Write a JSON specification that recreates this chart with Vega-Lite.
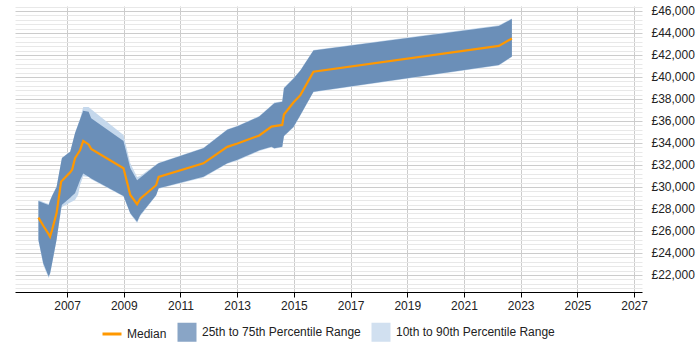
{
  "$schema": "https://vega.github.io/schema/vega-lite/v6.json",
  "autosize": {"type": "none"},
  "width": 627,
  "height": 286,
  "padding": {"left": 15, "top": 6, "right": 58, "bottom": 58},
  "background": "#ffffff",
  "config": {
    "view": {"stroke": null},
    "font": "Liberation Sans",
    "axis": {"labelFont": "Liberation Sans", "labelFontSize": 12, "labelColor": "#222222"},
    "legend": {
      "orient": "none", "direction": "horizontal", "legendX": 91, "legendY": 320,
      "labelFont": "Liberation Sans", "labelFontSize": 12, "labelColor": "#222222",
      "symbolSize": 361, "columnPadding": 10, "labelOffset": 9
    }
  },
  "data": {
    "values": [
      {"year": 2005.99, "p10": 25091, "p25": 25182, "median": 27209, "p75": 28727, "p90": 28818},
      {"year": 2006.16, "p10": 22909, "p25": 23063, "median": 26472, "p75": 28545, "p90": 28636},
      {"year": 2006.35, "p10": 21727, "p25": 21864, "median": 25709, "p75": 28364, "p90": 28455},
      {"year": 2006.40, "p10": 22045, "p25": 22164, "median": 25481, "p75": 28745, "p90": 28818},
      {"year": 2006.47, "p10": 22955, "p25": 23063, "median": 26091, "p75": 29173, "p90": 29227},
      {"year": 2006.63, "p10": 25182, "p25": 25227, "median": 27618, "p75": 30000, "p90": 30045},
      {"year": 2006.79, "p10": 27909, "p25": 28055, "median": 30482, "p75": 32245, "p90": 32273},
      {"year": 2006.82, "p10": 28182, "p25": 28391, "median": 30573, "p75": 32627, "p90": 32655},
      {"year": 2007.11, "p10": 28582, "p25": 29027, "median": 31327, "p75": 33209, "p90": 33227},
      {"year": 2007.18, "p10": 28673, "p25": 29191, "median": 31582, "p75": 33882, "p90": 33909},
      {"year": 2007.28, "p10": 28818, "p25": 29427, "median": 32609, "p75": 34882, "p90": 34909},
      {"year": 2007.39, "p10": 29282, "p25": 30155, "median": 33064, "p75": 35645, "p90": 35727},
      {"year": 2007.46, "p10": 30182, "p25": 30636, "median": 33364, "p75": 36155, "p90": 36227},
      {"year": 2007.57, "p10": 30973, "p25": 31218, "median": 34191, "p75": 36927, "p90": 37273},
      {"year": 2007.76, "p10": 30909, "p25": 30927, "median": 33864, "p75": 36827, "p90": 37273},
      {"year": 2007.85, "p10": 30700, "p25": 30764, "median": 33464, "p75": 36245, "p90": 37055},
      {"year": 2008.99, "p10": 29136, "p25": 29182, "median": 31700, "p75": 34182, "p90": 34727},
      {"year": 2009.23, "p10": 27545, "p25": 27609, "median": 29273, "p75": 31727, "p90": 32145},
      {"year": 2009.47, "p10": 26727, "p25": 26845, "median": 28427, "p75": 30609, "p90": 30909},
      {"year": 2009.58, "p10": 27364, "p25": 27455, "median": 28927, "p75": 30827, "p90": 31000},
      {"year": 2010.14, "p10": 29200, "p25": 29245, "median": 30155, "p75": 31991, "p90": 32050},
      {"year": 2010.23, "p10": 29830, "p25": 29882, "median": 30909, "p75": 32155, "p90": 32200},
      {"year": 2011.81, "p10": 30870, "p25": 30927, "median": 32145, "p75": 33509, "p90": 33560},
      {"year": 2012.65, "p10": 32110, "p25": 32164, "median": 33645, "p75": 35191, "p90": 35240},
      {"year": 2013.01, "p10": 32410, "p25": 32464, "median": 33955, "p75": 35518, "p90": 35570},
      {"year": 2013.78, "p10": 33270, "p25": 33327, "median": 34682, "p75": 36400, "p90": 36450},
      {"year": 2014.21, "p10": 33610, "p25": 33664, "median": 35491, "p75": 37382, "p90": 37430},
      {"year": 2014.31, "p10": 33470, "p25": 33527, "median": 35536, "p75": 37618, "p90": 37670},
      {"year": 2014.59, "p10": 33610, "p25": 33664, "median": 35636, "p75": 37755, "p90": 37800},
      {"year": 2014.65, "p10": 34580, "p25": 34636, "median": 36582, "p75": 38982, "p90": 39030},
      {"year": 2014.99, "p10": 35410, "p25": 35464, "median": 37700, "p75": 39855, "p90": 39900},
      {"year": 2015.23, "p10": 36490, "p25": 36545, "median": 38345, "p75": 40591, "p90": 40640},
      {"year": 2015.69, "p10": 38610, "p25": 38664, "median": 40482, "p75": 42409, "p90": 42460},
      {"year": 2022.23, "p10": 41040, "p25": 41091, "median": 42818, "p75": 44636, "p90": 44690},
      {"year": 2022.69, "p10": 41810, "p25": 41864, "median": 43500, "p75": 45273, "p90": 45320}
    ]
  },
  "resolve": {"scale": {"y": "shared"}, "axis": {"y": "independent"}},
  "layer": [
    {
      "mark": {"type": "area", "opacity": 1},
      "encoding": {
        "x": {
          "field": "year", "type": "quantitative",
          "scale": {"domain": [2005.163, 2027.28], "nice": false, "zero": false},
          "axis": {
            "title": null, "values": [2007, 2009, 2011, 2013, 2015, 2017, 2019, 2021, 2023, 2025, 2027],
            "format": "d", "grid": true, "gridColor": "#cccccc", "gridWidth": 1,
            "domainColor": "#000000", "domainWidth": 1, "tickColor": "#000000", "tickSize": 5,
            "labelPadding": 3, "labelFlush": false
          }
        },
        "y": {
          "field": "p10", "type": "quantitative",
          "scale": {"domain": [20450, 46450], "nice": false, "zero": false},
          "axis": {
            "orient": "left", "title": null, "labels": false, "ticks": false, "domain": false,
            "grid": true, "gridColor": "#e8e8e8", "gridWidth": 1,
            "values": [20800, 21200, 21600, 22400, 22800, 23200, 23600, 24400, 24800, 25200, 25600, 26400, 26800, 27200, 27600, 28400, 28800, 29200, 29600, 30400, 30800, 31200, 31600, 32400, 32800, 33200, 33600, 34400, 34800, 35200, 35600, 36400, 36800, 37200, 37600, 38400, 38800, 39200, 39600, 40400, 40800, 41200, 41600, 42400, 42800, 43200, 43600, 44400, 44800, 45200, 45600, 46400]
          }
        },
        "y2": {"field": "p90"},
        "color": {
          "datum": "10th to 90th Percentile Range",
          "type": "nominal",
          "scale": {
            "domain": ["Median", "25th to 75th Percentile Range", "10th to 90th Percentile Range"],
            "range": ["#ff9800", "#6b8fb8", "#c5d8ec"]
          },
          "legend": {
            "title": null,
            "encode": {
              "symbols": {
                "update": {
                  "shape": {"signal": "datum.value === 'Median' ? 'stroke' : 'square'"},
                  "fill": {"signal": "datum.value === 'Median' ? 'transparent' : scale('color', datum.value)"},
                  "fillOpacity": {"value": 0.8},
                  "stroke": {"signal": "datum.value === 'Median' ? scale('color', datum.value) : 'transparent'"},
                  "strokeWidth": {"signal": "datum.value === 'Median' ? 3 : 0"},
                  "opacity": {"value": 1}
                }
              }
            }
          }
        }
      }
    },
    {
      "mark": {"type": "area", "opacity": 1},
      "encoding": {
        "x": {"field": "year", "type": "quantitative"},
        "y": {
          "field": "p25", "type": "quantitative",
          "axis": {
            "orient": "right", "title": null, "domain": false, "ticks": false,
            "grid": true, "gridColor": "#cccccc", "gridWidth": 1,
            "values": [22000, 24000, 26000, 28000, 30000, 32000, 34000, 36000, 38000, 40000, 42000, 44000, 46000],
            "labelExpr": "'£' + format(datum.value, ',')",
            "labelPadding": 9
          }
        },
        "y2": {"field": "p75"},
        "color": {
          "datum": "25th to 75th Percentile Range", "type": "nominal",
          "legend": {
            "title": null,
            "encode": {
              "symbols": {
                "update": {
                  "shape": {"signal": "datum.value === 'Median' ? 'stroke' : 'square'"},
                  "fill": {"signal": "datum.value === 'Median' ? 'transparent' : scale('color', datum.value)"},
                  "fillOpacity": {"value": 0.8},
                  "stroke": {"signal": "datum.value === 'Median' ? scale('color', datum.value) : 'transparent'"},
                  "strokeWidth": {"signal": "datum.value === 'Median' ? 3 : 0"},
                  "opacity": {"value": 1}
                }
              }
            }
          }
        }
      }
    },
    {
      "mark": {"type": "line", "strokeWidth": 2.2},
      "encoding": {
        "x": {"field": "year", "type": "quantitative"},
        "y": {"field": "median", "type": "quantitative", "axis": null},
        "color": {
          "datum": "Median", "type": "nominal",
          "legend": {
            "title": null,
            "encode": {
              "symbols": {
                "update": {
                  "shape": {"signal": "datum.value === 'Median' ? 'stroke' : 'square'"},
                  "fill": {"signal": "datum.value === 'Median' ? 'transparent' : scale('color', datum.value)"},
                  "fillOpacity": {"value": 0.8},
                  "stroke": {"signal": "datum.value === 'Median' ? scale('color', datum.value) : 'transparent'"},
                  "strokeWidth": {"signal": "datum.value === 'Median' ? 3 : 0"},
                  "opacity": {"value": 1}
                }
              }
            }
          }
        }
      }
    }
  ]
}
